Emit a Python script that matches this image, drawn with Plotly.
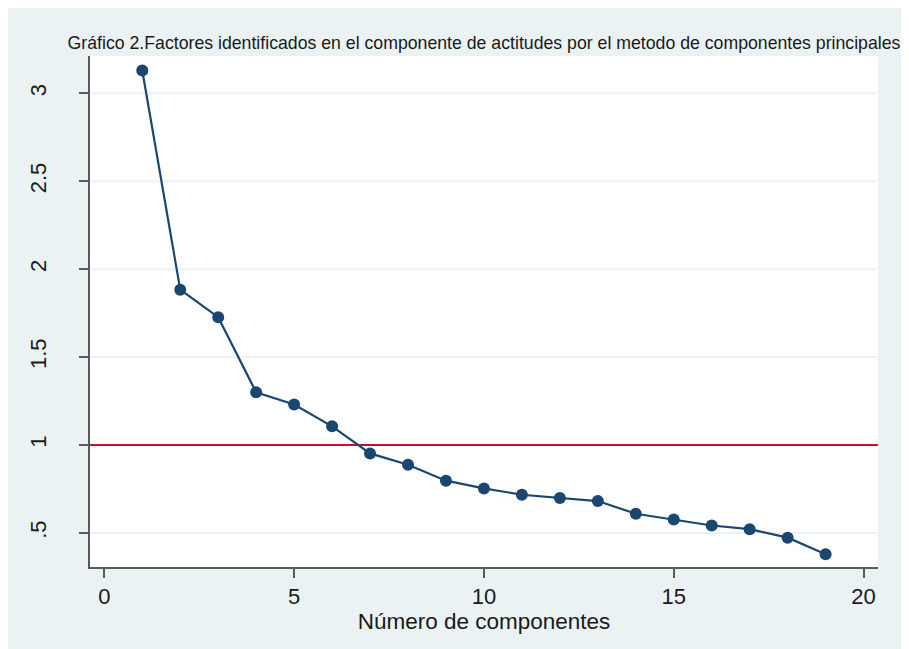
import plotly.graph_objects as go

components = list(range(1, 20))
eigenvalues = [3.13, 1.883, 1.727, 1.300, 1.230, 1.106, 0.952, 0.888, 0.797,
               0.753, 0.717, 0.698, 0.681, 0.609, 0.576, 0.542, 0.521, 0.473, 0.379]
threshold = 1
x_ticks = [0, 5, 10, 15, 20]
y_ticks = [0.5, 1, 1.5, 2, 2.5, 3]
y_tick_labels = [".5", "1", "1.5", "2", "2.5", "3"]
title_text = "Gráfico 2.Factores identificados en el componente de actitudes por el metodo de componentes principales"
x_title = "Número de componentes"

BG = "#EAF2F3"
NAVY = "#1A476F"
RED = "#C8102E"
AX = "#5A5A5A"
FONT = "Liberation Sans, Arial, sans-serif"
TXT = "#1a1a1a"

# page has an 8px body margin; figure sits at (8, 8)
W, H = 894, 641
L, R, T, B = 82, 24, 48, 82

fig = go.Figure()
fig.add_trace(go.Scatter(
    x=components, y=eigenvalues, mode="lines+markers",
    line=dict(color=NAVY, width=2.2),
    marker=dict(color=NAVY, size=12),
    showlegend=False, hoverinfo="x+y"))

# horizontal grid lines (drawn as shapes so the reference line can sit on top)
for yv in y_ticks:
    fig.add_hline(y=yv, line=dict(color=BG, width=2), layer="below")
fig.add_hline(y=threshold, line=dict(color=RED, width=2), layer="below")

fig.update_layout(
    width=W, height=H,
    margin=dict(l=L, r=R, t=T, b=B),
    paper_bgcolor=BG, plot_bgcolor="white",
    font=dict(family=FONT, color=TXT),
    title=dict(text=title_text, x=0.5, xref="paper", xanchor="center",
               y=1 - 34.5 / H, yanchor="middle",
               font=dict(size=17.7, family=FONT, color=TXT)),
    xaxis=dict(range=[-0.377, 20.38], tickvals=x_ticks, showgrid=False, zeroline=False,
               showline=True, linecolor=AX, linewidth=1.5,
               ticks="outside", ticklen=9, tickwidth=1.5, tickcolor=AX,
               tickfont=dict(size=22, family=FONT, color=TXT),
               title=dict(text=x_title, font=dict(size=22.5, family=FONT, color=TXT), standoff=2)),
    yaxis=dict(range=[0.306, 3.2125], tickvals=y_ticks, ticktext=y_tick_labels,
               showgrid=False, zeroline=False,
               showline=True, linecolor=AX, linewidth=1.5,
               ticks="outside", ticklen=9, tickwidth=1.5, tickcolor=AX,
               tickangle=-90, ticklabelstandoff=24,
               tickfont=dict(size=22, family=FONT, color=TXT)),
)

fig.write_html("out.html")
